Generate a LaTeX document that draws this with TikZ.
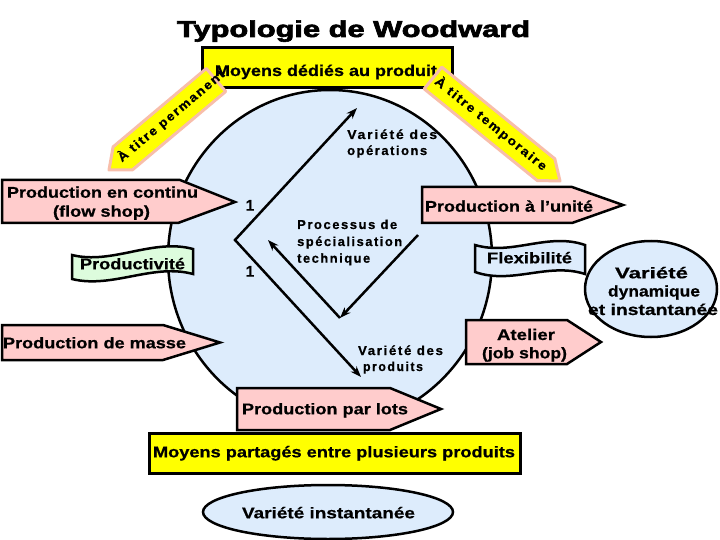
\documentclass[tikz,border=0pt]{standalone}
\usepackage{fontspec}
\setmainfont{Liberation Sans}[BoldFeatures={FakeBold=0.6}]
\newfontfamily\spc{Liberation Sans}[LetterSpace=12,BoldFeatures={FakeBold=0.6}]
\newfontfamily\ttl{Liberation Sans}[BoldFeatures={FakeBold=2.5}]
\usetikzlibrary{arrows.meta,calc}
\newcommand{\fw}[2]{\resizebox{#1pt}{\height}{#2}}
\definecolor{pinkf}{RGB}{255,204,204}
\definecolor{bluef}{RGB}{221,236,252}
\definecolor{greenf}{RGB}{221,252,221}
\definecolor{yel}{RGB}{255,255,0}
\definecolor{salmon}{RGB}{248,190,170}
\begin{document}
\begin{tikzpicture}[x=1pt,y=-1pt,
  lbl/.style={inner sep=0pt, anchor=base, font=\bfseries\fontsize{15.5}{18}\selectfont},
  lblw/.style={inner sep=0pt, anchor=base west, font=\spc\bfseries\fontsize{13}{16}\selectfont},
  lblc/.style={inner sep=0pt, anchor=base, font=\spc\bfseries\fontsize{13}{16}\selectfont},
  diag/.style={inner sep=0pt, anchor=mid, font=\spc\bfseries\fontsize{12.5}{15}\selectfont},
  pinkarrow/.style={draw=black, line width=2.5pt, fill=pinkf, line join=miter},
  yellowbox/.style={draw=black, line width=3pt, fill=yel},
  diagarrow/.style={draw=salmon, line width=3pt, fill=yel, line join=round},
  banner/.style={draw=black, line width=2.5pt},
  conn/.style={line width=2.5pt, line join=miter, -{Stealth[length=11pt,width=8pt]}},
]
\useasboundingbox (0,0) rectangle (720,540);
\fill[white] (0,0) rectangle (720,540);

% big ellipse (fill)
\fill[bluef] (330,258) ellipse [x radius=162pt, y radius=168pt];

% coordinates of the connectors
\coordinate (V) at (235,240);
\coordinate (A1) at (357,108);
\coordinate (A2) at (361,377);
\coordinate (I0) at (418,235);
\coordinate (I1) at (340,318);
\coordinate (I2) at (268,240);

% texts inside the ellipse
\node[lblw] (vop1) at (347,139) {\fw{90}{Variété des}};
\node[lblw] (vop2) at (347,155) {\fw{80}{opérations}};
\node[lblw] (pro1) at (297,229) {\fw{100}{Processus de}};
\node[lblw] (pro2) at (297,246) {\fw{105}{spécialisation}};
\node[lblw] (pro3) at (297,262.7) {\fw{73}{technique}};
\node[lblc] (vpr1) at (400.5,355) {\fw{85}{Variété des}};
\node[lblc] (vpr2) at (393,371) {\fw{60}{produits}};
\node[lbl] (un1) at (250,210.7) {1};
\node[lbl] (un2) at (250,276.7) {1};

% connectors
\draw[line width=2.5pt, line join=miter, {Stealth[length=11pt,width=8pt]}-{Stealth[length=11pt,width=8pt]}] (A1) -- (V) -- (A2);
\draw[conn] (I0) -- (I1);
\draw[conn] (I1) -- (I2);

% ellipse outline
\draw[line width=2.5pt] (330,258) ellipse [x radius=162pt, y radius=168pt];

% pink arrows
\draw[pinkarrow] (2,180) -- (180,180) -- (235,202) -- (178,223) -- (2,223) -- cycle;
\node[lbl] (pc1) at (102.5,197.7) {\fw{191}{Production en continu}};
\node[lbl] (pc2) at (101.5,216.7) {\fw{97}{(flow shop)}};

\draw[pinkarrow] (2,325) -- (163,325) -- (220,342.5) -- (163,360) -- (2,360) -- cycle;
\node[lbl] (pm) at (94.5,348.3) {\fw{183}{Production de masse}};

\draw[pinkarrow] (422,187) -- (572,187) -- (623,205) -- (572,223) -- (422,223) -- cycle;
\node[lbl] (pu) at (509,211.7) {\fw{168}{Production à l’unité}};

\draw[pinkarrow] (466,320) -- (567,320) -- (601,342) -- (567,364) -- (466,364) -- cycle;
\node[lbl] (at1) at (526,340) {\fw{58}{Atelier}};
\node[lbl] (at2) at (524.5,358.3) {\fw{85}{(job shop)}};

\draw[pinkarrow] (237,388) -- (390,388) -- (441,409) -- (390,430) -- (237,430) -- cycle;
\node[lbl] (pl) at (325,414.3) {\fw{166}{Production par lots}};

% wave banners
\draw[banner, fill=greenf] (72,255) .. controls (112,265) and (153,238) .. (193,249) -- (193,274) .. controls (153,263) and (112,289) .. (72,279) -- cycle;
\node[lbl] (prod) at (132.5,269.3) {\fw{105}{Productivité}};

\draw[banner, fill=bluef] (475,245) .. controls (512,256) and (548,232) .. (585,245) -- (585,274) .. controls (548,262) and (512,285) .. (475,272) -- cycle;
\node[lbl] (flex) at (529.5,263.3) {\fw{85}{Flexibilité}};

% Variété dynamique ellipse
\fill[bluef] (651,289) ellipse [x radius=66pt, y radius=48pt];
\node[lbl] (vd1) at (651.5,278.3) {\fw{73}{Variété}};
\node[lbl] (vd2) at (654,296.5) {\fw{92}{dynamique}};
\node[lbl] (vd3) at (653,315) {\fw{130}{et instantanée}};
\draw[line width=2.5pt] (651,289) ellipse [x radius=66pt, y radius=48pt];

% yellow boxes
\draw[yellowbox] (202,48) rectangle (452,88);
\node[lbl] (mdp) at (326,76) {\fw{222}{Moyens dédiés au produit}};
\draw[yellowbox] (149,433) rectangle (520,473);
\node[lbl] (mpp) at (334,457.3) {\fw{362}{Moyens partagés entre plusieurs produits}};

% Variété instantanée ellipse
\draw[line width=2.5pt, fill=bluef] (328,512) ellipse [x radius=125pt, y radius=27pt];
\node[lbl] (vi) at (328.5,518.3) {\fw{173}{Variété instantanée}};

% diagonal arrows
\draw[diagarrow] (225.7,91.5) -- (132.4,169.9) -- (109,170) -- (113.1,146.9) -- (206.3,68.5) -- cycle;
\node[diag, rotate=40] (tp) at (172,117) {\fw{135}{À titre permanent}};
\draw[diagarrow] (424.2,88.9) -- (537.2,180.5) -- (560,181) -- (554.8,158.8) -- (441.8,67.1) -- cycle;
\node[diag, rotate=-39] (tt) at (490,125) {\fw{140}{À titre temporaire}};

% title
\node[inner sep=0pt, anchor=base, font=\ttl\bfseries\fontsize{23}{26}\selectfont] (title) at (353.5,37) {\fw{353}{Typologie de Woodward}};
\end{tikzpicture}
\end{document}
